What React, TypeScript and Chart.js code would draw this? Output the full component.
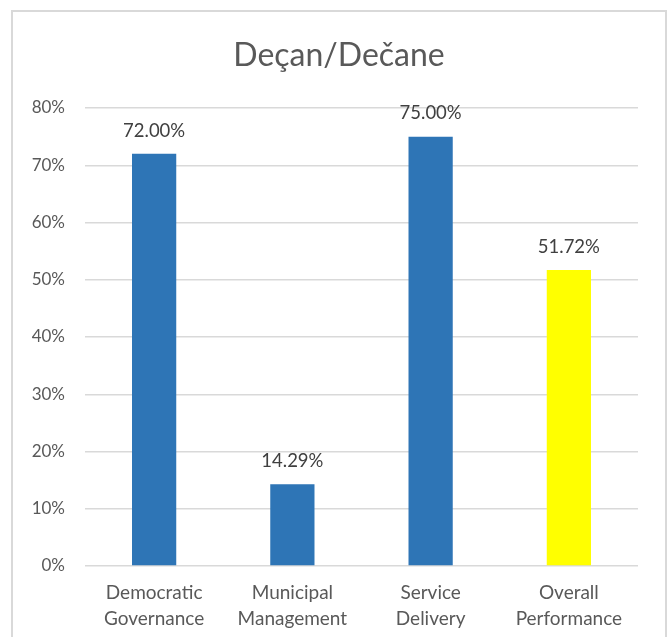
import React, { useEffect, useRef } from "react";
import { Chart, registerables } from "chart.js";

Chart.register(...registerables);

const title = "Deçan/Dečane";
const categories: string[][] = [
  ["Democratic", "Governance"],
  ["Municipal", "Management"],
  ["Service", "Delivery"],
  ["Overall", "Performance"],
];
const values: number[] = [0.72, 0.1429, 0.75, 0.5172];
const barColors: string[] = ["#2E75B6", "#2E75B6", "#2E75B6", "#FFFF00"];
const yMin = 0;
const yMax = 0.8;
const yStep = 0.1;

const FONT = "Lato, 'Open Sans', sans-serif";
const TEXT = "#595959";

const dataLabels = {
  id: "dataLabels",
  afterDatasetsDraw(chart: any) {
    const { ctx } = chart;
    const meta = chart.getDatasetMeta(0);
    ctx.save();
    ctx.font = `18.5px ${FONT}`;
    ctx.fillStyle = "#404040";
    ctx.textAlign = "center";
    ctx.textBaseline = "bottom";
    meta.data.forEach((bar: any, i: number) => {
      const v = chart.data.datasets[0].data[i] as number;
      ctx.fillText((v * 100).toFixed(2) + "%", bar.x, bar.y - 14);
    });
    ctx.restore();
  },
};

const titlePlugin = {
  id: "customTitle",
  afterDraw(chart: any) {
    const { ctx } = chart;
    ctx.save();
    ctx.font = `32px ${FONT}`;
    ctx.fillStyle = TEXT;
    ctx.textAlign = "center";
    ctx.textBaseline = "alphabetic";
    ctx.fillText(title, 339, 66);
    ctx.restore();
  },
};

export default function App() {
  const ref = useRef<HTMLCanvasElement | null>(null);
  useEffect(() => {
    document.body.style.margin = "0";
    if (!ref.current) return;
    const chart = new Chart(ref.current, {
      type: "bar",
      data: {
        labels: categories,
        datasets: [
          {
            data: values,
            backgroundColor: barColors,
            barPercentage: 1,
            categoryPercentage: 0.32,
          },
        ],
      },
      options: {
        responsive: false,
        animation: false,
        layout: { padding: { left: 0, right: 29, top: 108, bottom: 0 } },
        plugins: {
          legend: { display: false },
          tooltip: { enabled: false },
          title: { display: false },
        },
        scales: {
          x: {
            grid: { display: false },
            border: { display: false },
            ticks: {
              color: TEXT,
              font: { family: FONT, size: 19, lineHeight: 1.37 },
              padding: 6,
              maxRotation: 0,
              autoSkip: false,
            },
            afterFit(scale: any) {
              scale.height = 71;
            },
          },
          y: {
            min: yMin,
            max: yMax,
            grid: { color: "#d9d9d9", lineWidth: 1.5, drawTicks: false },
            border: { display: false },
            ticks: {
              stepSize: yStep,
              color: TEXT,
              font: { family: FONT, size: 17 },
              padding: 20,
              callback: (v: any) => Math.round(Number(v) * 100) + "%",
            },
            afterFit(scale: any) {
              scale.width = 85;
            },
          },
        },
      },
      plugins: [dataLabels, titlePlugin],
    });
    return () => chart.destroy();
  }, []);

  return (
    <div style={{ position: "relative", width: 667, height: 637, overflow: "hidden", background: "#fff" }}>
      <div
        style={{
          position: "absolute",
          left: 11,
          top: 10,
          width: 656,
          height: 660,
          border: "2px solid #d9d9d9",
          boxSizing: "border-box",
        }}
      />
      <canvas ref={ref} width={667} height={637} style={{ position: "absolute", left: 0, top: 0 }} />
    </div>
  );
}
